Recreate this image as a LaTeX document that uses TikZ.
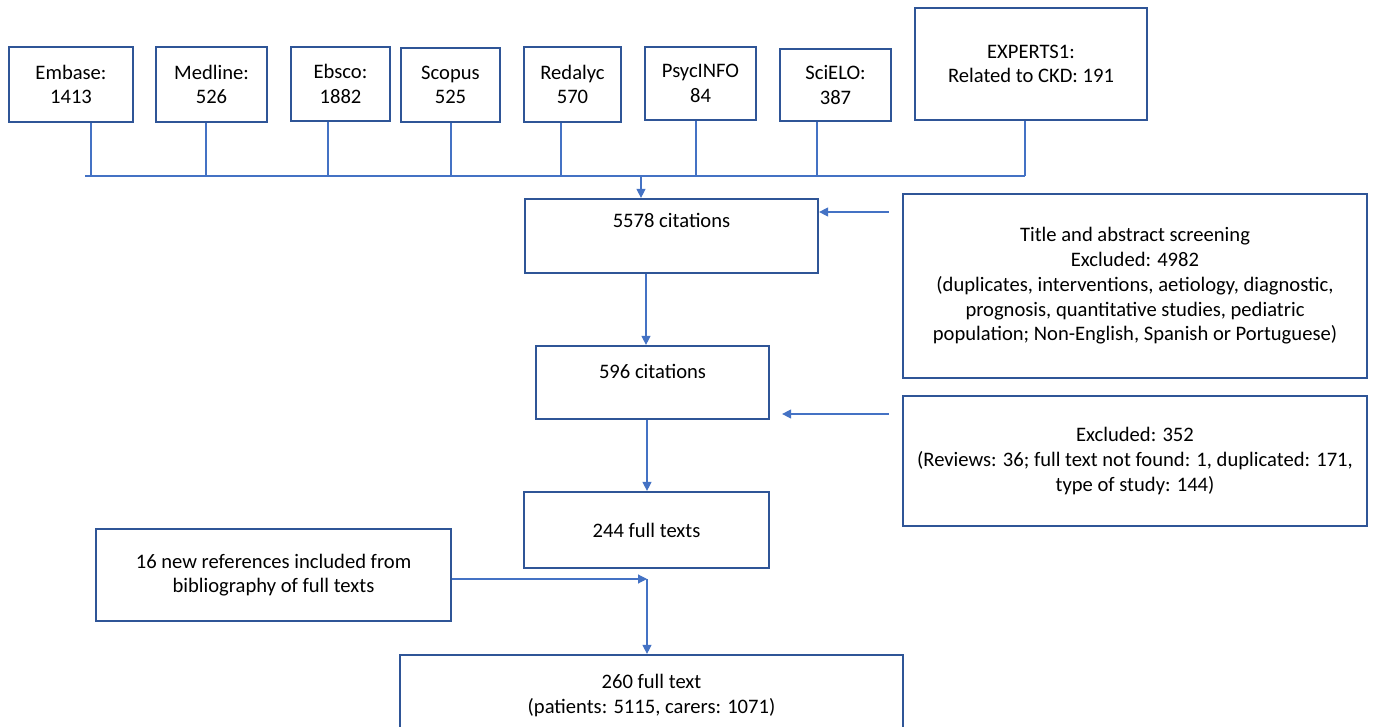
\documentclass[tikz,border=0pt]{standalone}
\usepackage{fontspec}
\setmainfont{Carlito}
\usetikzlibrary{arrows.meta,calc}
\definecolor{boxblue}{HTML}{2F5597}
\definecolor{lineblue}{HTML}{4472C4}
\begin{document}
\begin{tikzpicture}[x=1pt,y=-1pt,
  box/.style={draw=boxblue,line width=2.2pt,inner sep=0pt,minimum width=#1},
  txt/.style={align=center,inner sep=0pt,font=\fontsize{20.6}{24.7}\selectfont},
  conn/.style={draw=lineblue,line width=1.1pt},
  arr/.style={conn,-{Triangle[length=9pt,width=9pt]},shorten >=0pt}]
\useasboundingbox (0,0) rectangle (1381,727);
\clip (0,0) rectangle (1381,727);
\fill[white] (0,0) rectangle (1381,727);
% boxes: name, x1, y1, x2, y2, text
\newcommand{\srcbox}[6]{%
  \node[box=#4-#2,minimum height=#5-#3,txt,draw=boxblue,line width=2.2pt] (#1) at ({(#2+#4)/2},{(#3+#5)/2}) {#6};}
\srcbox{embase}{9}{47}{133}{122}{Embase:\\1413}
\srcbox{medline}{156}{47}{267}{122}{Medline:\\526}
\srcbox{ebsco}{291}{47}{390}{121}{Ebsco:\\1882}
\srcbox{scopus}{401}{48}{500}{122}{Scopus\\525}
\srcbox{redalyc}{524}{47}{621}{122}{Redalyc\\570}
\srcbox{psyc}{645}{47}{756}{120}{PsycINFO\\84}
\srcbox{scielo}{780}{49}{891}{121}{SciELO:\\387}
\srcbox{experts}{915}{8}{1147}{120}{EXPERTS1:\\Related to CKD: 191}
% bus
\coordinate (b1) at (91,176);
\coordinate (b2) at (206,176);
\coordinate (b3) at (328,176);
\coordinate (b4) at (451,176);
\coordinate (b5) at (561,176);
\coordinate (b6) at (696,176);
\coordinate (b7) at (817,176);
\coordinate (b8) at (1025,176);
\coordinate (bs) at (85,176);
\coordinate (bdown) at (641,176);
\draw[conn] (b1 |- embase.south) -- (b1);
\draw[conn] (b2 |- medline.south) -- (b2);
\draw[conn] (b3 |- ebsco.south) -- (b3);
\draw[conn] (b4 |- scopus.south) -- (b4);
\draw[conn] (b5 |- redalyc.south) -- (b5);
\draw[conn] (b6 |- psyc.south) -- (b6);
\draw[conn] (b7 |- scielo.south) -- (b7);
\draw[conn] (b8 |- experts.south) -- (b8);
\draw[conn] (bs) -- (b8);
% main flow
\srcbox{c5578}{525}{199}{818}{273}{}
\node[txt] at (671.5,220) {5578 citations};
\draw[arr] (bdown) -- (bdown |- c5578.north);
\srcbox{title}{903}{194}{1367}{378}{Title and abstract screening\\Excluded: 4982\\(duplicates, interventions, aetiology, diagnostic,\\prognosis, quantitative studies, pediatric\\population; Non-English, Spanish or Portuguese)}
\draw[arr] ($(title.west |- 0,212)+(-13,0)$) -- (c5578.east |- 0,212);
\srcbox{c596}{536}{346}{769}{419}{}
\node[txt] at (652.5,371) {596 citations};
\coordinate (v1) at (646,0);
\draw[arr] (v1 |- c5578.south) -- (v1 |- c596.north);
\srcbox{excl}{903}{396}{1367}{526}{Excluded: 352\\(Reviews: 36; full text not found: 1, duplicated: 171,\\type of study: 144)}
\draw[arr] ($(excl.west |- 0,414)+(-13,0)$) -- ($(c596.east |- 0,414)+(12,0)$);
\srcbox{c244}{524}{492}{769}{568}{244 full texts}
\coordinate (v2) at (647,0);
\draw[arr] (v2 |- c596.south) -- (v2 |- c244.north);
\srcbox{newref}{96}{529}{451}{621}{16 new references included from\\bibliography of full texts}
\coordinate (junc) at (647,579);
\draw[arr] (newref.east |- junc) -- (junc);
\srcbox{c260}{400}{655}{903}{760}{}
\node[txt] at (651.5,695.5) {260 full text\\(patients: 5115, carers: 1071)};
\draw[arr] (junc) -- (junc |- c260.north);
\end{tikzpicture}
\end{document}
